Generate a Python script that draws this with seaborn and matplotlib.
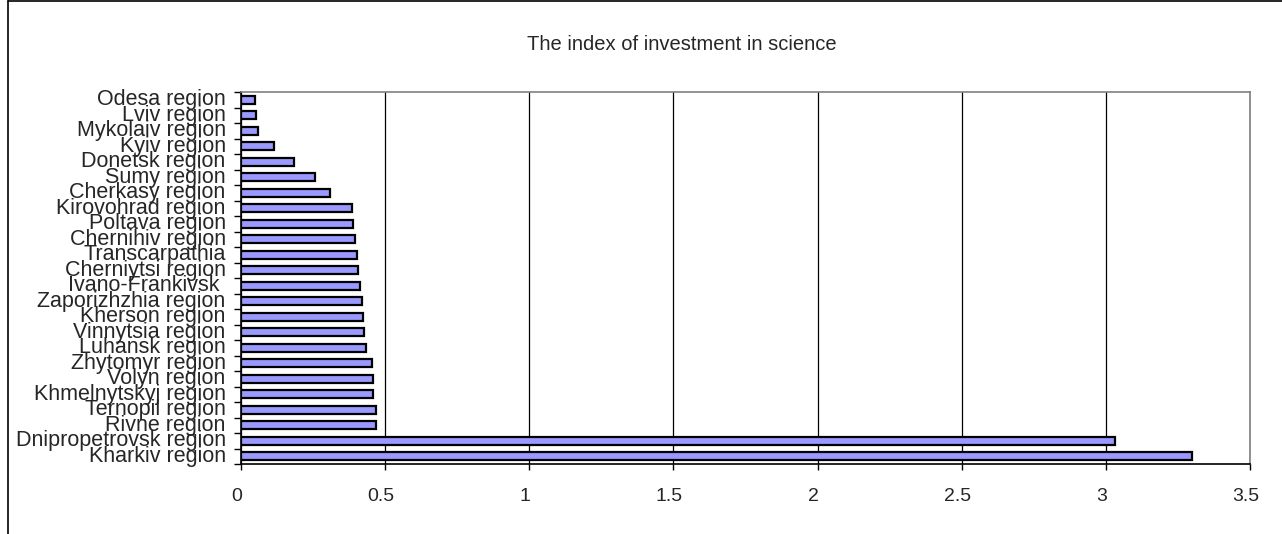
import matplotlib
matplotlib.use("Agg")
import matplotlib.pyplot as plt
import matplotlib.transforms as mtransforms
from matplotlib.lines import Line2D
from matplotlib.ticker import FixedLocator
import numpy as np
import pandas as pd
import seaborn as sns

regions = [
    "Odesa region", "Lviv region", "Mykolaiv region", "Kyiv region",
    "Donetsk region", "Sumy region", "Cherkasy region", "Kirovohrad region",
    "Poltava region", "Chernihiv region", "Transcarpathia", "Cherniytsi region",
    "Ivano-Frankivsk ", "Zaporizhzhia region", "Kherson region",
    "Vinnytsia region", "Luhansk region", "Zhytomyr region", "Volyn region",
    "Khmelnytskyj region", "Ternopil region", "Rivne region",
    "Dnipropetrovsk region", "Kharkiv region",
]
index_values = [
    0.049, 0.052, 0.060, 0.115,
    0.184, 0.257, 0.310, 0.385,
    0.390, 0.395, 0.403, 0.407,
    0.413, 0.420, 0.423,
    0.427, 0.434, 0.454, 0.458,
    0.458, 0.468, 0.468,
    3.03, 3.30,
]
x_ticks = [0, 0.5, 1, 1.5, 2, 2.5, 3, 3.5]
x_tick_labels = ["0", "0.5", "1", "1.5", "2", "2.5", "3", "3.5"]

df = pd.DataFrame({"region": regions, "value": index_values})

sns.set_style("white")
plt.rcParams["font.family"] = ["Liberation Sans", "DejaVu Sans"]

fig = plt.figure(figsize=(12.82, 5.34), dpi=100)
ax = fig.add_axes([241 / 1282, 1 - 464 / 534, (1250 - 241) / 1282, (464 - 92) / 534])

sns.barplot(data=df, x="value", y="region", orient="h", color="#9999FF",
            saturation=1, width=0.5, edgecolor="black", linewidth=1.6, ax=ax)

ax.set_xlim(0, 3.5)
ax.set_ylim(len(regions) - 0.5, -0.5)
ax.set_xticks(x_ticks)
ax.set_xticklabels(x_tick_labels, fontsize=14)
ax.set_xlabel("")
ax.set_ylabel("")

# vertical gridlines at each major x tick
ax.grid(axis="x", color="black", linewidth=0.9)
ax.grid(axis="y", visible=False)
ax.set_axisbelow(True)

# category ticks sit on boundaries between rows
ax.yaxis.set_minor_locator(FixedLocator(np.arange(-0.5, len(regions) + 0.5, 1)))
ax.tick_params(axis="y", which="major", length=0, pad=11, labelsize=15.5)
ax.tick_params(axis="y", which="minor", length=5, width=1, color="black", direction="out", left=True)
ax.tick_params(axis="x", which="major", length=4, width=1, color="black", direction="out",
               bottom=True, pad=13)
for lbl in ax.get_yticklabels():
    lbl.set_verticalalignment("center")
shift = mtransforms.ScaledTranslation(-4 / 100, 0, fig.dpi_scale_trans)
for lbl in ax.get_xticklabels():
    lbl.set_transform(lbl.get_transform() + shift)

for side in ["left", "bottom"]:
    ax.spines[side].set_color("black")
    ax.spines[side].set_linewidth(1.2)
for side in ["top", "right"]:
    ax.spines[side].set_color("#808080")
    ax.spines[side].set_linewidth(1.2)

fig.text(0.5 * (513 + 850) / 1282, 1 - 45 / 534, "The index of investment in science",
         ha="center", va="center", fontsize=14.5)

# outer chart frame
fig.add_artist(Line2D([8 / 1282, 1], [1 - 1 / 534, 1 - 1 / 534], color="black", linewidth=1.2,
                      transform=fig.transFigure))
fig.add_artist(Line2D([8 / 1282, 8 / 1282], [0, 1 - 1 / 534], color="black", linewidth=1.2,
                      transform=fig.transFigure))

fig.savefig("out.png", dpi=100, facecolor="white")
